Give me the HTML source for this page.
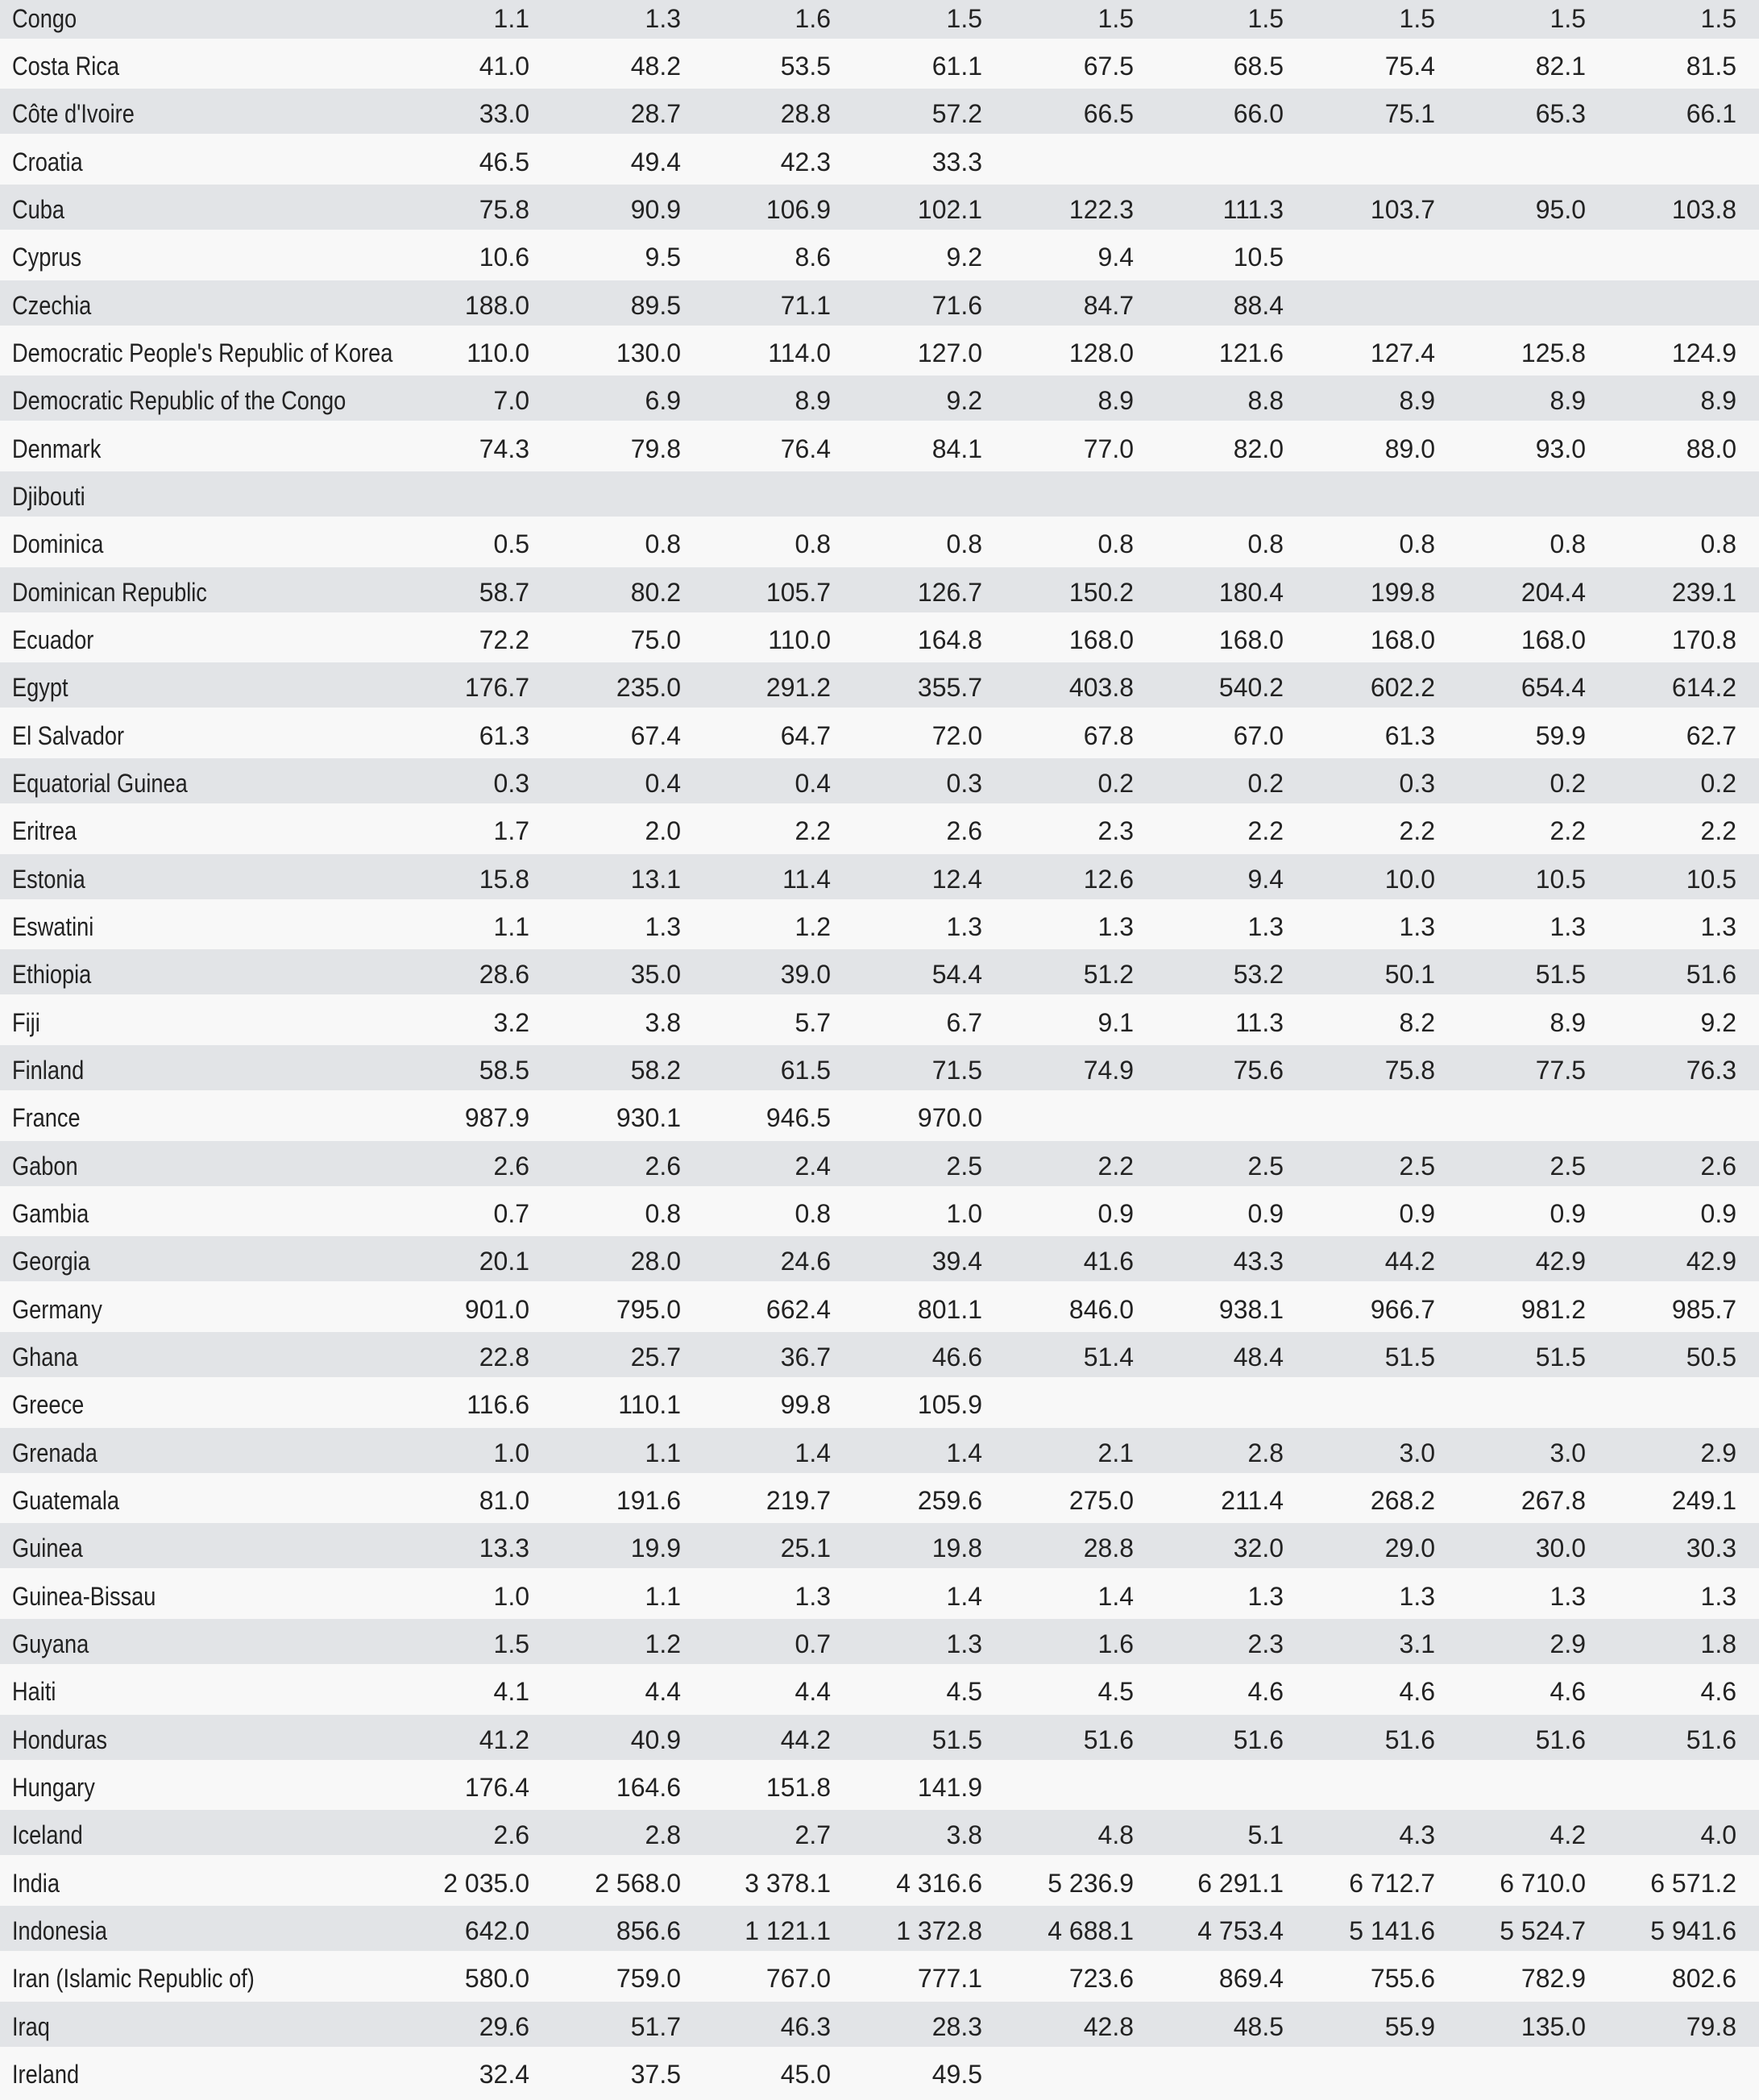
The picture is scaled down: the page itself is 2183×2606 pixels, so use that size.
<!DOCTYPE html>
<html><head><meta charset="utf-8"><style>
html,body{margin:0;padding:0;}
body{width:2183px;height:2606px;overflow:hidden;background:#f8f8f8;position:relative;font-family:"Liberation Sans",sans-serif;font-size:32px;color:#222;}
.r{position:absolute;left:0;width:2183px;height:56px;line-height:63px;}
.g{background:#e2e4e7;}
.w{background:#f8f8f8;}
.r span{position:absolute;top:0;white-space:nowrap;}
.r span.n{left:15px;transform:scaleX(0.85);transform-origin:left center;}
.r span:nth-child(2){right:1526px}
.r span:nth-child(3){right:1338px}
.r span:nth-child(4){right:1152px}
.r span:nth-child(5){right:964px}
.r span:nth-child(6){right:776px}
.r span:nth-child(7){right:590px}
.r span:nth-child(8){right:402px}
.r span:nth-child(9){right:215px}
.r span:nth-child(10){right:28px}
</style></head><body>
<div class="r g" style="top:-8px"><span class="n">Congo</span><span>1.1</span><span>1.3</span><span>1.6</span><span>1.5</span><span>1.5</span><span>1.5</span><span>1.5</span><span>1.5</span><span>1.5</span></div>
<div class="r w" style="top:51px"><span class="n">Costa Rica</span><span>41.0</span><span>48.2</span><span>53.5</span><span>61.1</span><span>67.5</span><span>68.5</span><span>75.4</span><span>82.1</span><span>81.5</span></div>
<div class="r g" style="top:110px"><span class="n">Côte d'Ivoire</span><span>33.0</span><span>28.7</span><span>28.8</span><span>57.2</span><span>66.5</span><span>66.0</span><span>75.1</span><span>65.3</span><span>66.1</span></div>
<div class="r w" style="top:170px"><span class="n">Croatia</span><span>46.5</span><span>49.4</span><span>42.3</span><span>33.3</span></div>
<div class="r g" style="top:229px"><span class="n">Cuba</span><span>75.8</span><span>90.9</span><span>106.9</span><span>102.1</span><span>122.3</span><span>111.3</span><span>103.7</span><span>95.0</span><span>103.8</span></div>
<div class="r w" style="top:288px"><span class="n">Cyprus</span><span>10.6</span><span>9.5</span><span>8.6</span><span>9.2</span><span>9.4</span><span>10.5</span></div>
<div class="r g" style="top:348px"><span class="n">Czechia</span><span>188.0</span><span>89.5</span><span>71.1</span><span>71.6</span><span>84.7</span><span>88.4</span></div>
<div class="r w" style="top:407px"><span class="n">Democratic People's Republic of Korea</span><span>110.0</span><span>130.0</span><span>114.0</span><span>127.0</span><span>128.0</span><span>121.6</span><span>127.4</span><span>125.8</span><span>124.9</span></div>
<div class="r g" style="top:466px"><span class="n">Democratic Republic of the Congo</span><span>7.0</span><span>6.9</span><span>8.9</span><span>9.2</span><span>8.9</span><span>8.8</span><span>8.9</span><span>8.9</span><span>8.9</span></div>
<div class="r w" style="top:526px"><span class="n">Denmark</span><span>74.3</span><span>79.8</span><span>76.4</span><span>84.1</span><span>77.0</span><span>82.0</span><span>89.0</span><span>93.0</span><span>88.0</span></div>
<div class="r g" style="top:585px"><span class="n">Djibouti</span></div>
<div class="r w" style="top:644px"><span class="n">Dominica</span><span>0.5</span><span>0.8</span><span>0.8</span><span>0.8</span><span>0.8</span><span>0.8</span><span>0.8</span><span>0.8</span><span>0.8</span></div>
<div class="r g" style="top:704px"><span class="n">Dominican Republic</span><span>58.7</span><span>80.2</span><span>105.7</span><span>126.7</span><span>150.2</span><span>180.4</span><span>199.8</span><span>204.4</span><span>239.1</span></div>
<div class="r w" style="top:763px"><span class="n">Ecuador</span><span>72.2</span><span>75.0</span><span>110.0</span><span>164.8</span><span>168.0</span><span>168.0</span><span>168.0</span><span>168.0</span><span>170.8</span></div>
<div class="r g" style="top:822px"><span class="n">Egypt</span><span>176.7</span><span>235.0</span><span>291.2</span><span>355.7</span><span>403.8</span><span>540.2</span><span>602.2</span><span>654.4</span><span>614.2</span></div>
<div class="r w" style="top:882px"><span class="n">El Salvador</span><span>61.3</span><span>67.4</span><span>64.7</span><span>72.0</span><span>67.8</span><span>67.0</span><span>61.3</span><span>59.9</span><span>62.7</span></div>
<div class="r g" style="top:941px"><span class="n">Equatorial Guinea</span><span>0.3</span><span>0.4</span><span>0.4</span><span>0.3</span><span>0.2</span><span>0.2</span><span>0.3</span><span>0.2</span><span>0.2</span></div>
<div class="r w" style="top:1000px"><span class="n">Eritrea</span><span>1.7</span><span>2.0</span><span>2.2</span><span>2.6</span><span>2.3</span><span>2.2</span><span>2.2</span><span>2.2</span><span>2.2</span></div>
<div class="r g" style="top:1060px"><span class="n">Estonia</span><span>15.8</span><span>13.1</span><span>11.4</span><span>12.4</span><span>12.6</span><span>9.4</span><span>10.0</span><span>10.5</span><span>10.5</span></div>
<div class="r w" style="top:1119px"><span class="n">Eswatini</span><span>1.1</span><span>1.3</span><span>1.2</span><span>1.3</span><span>1.3</span><span>1.3</span><span>1.3</span><span>1.3</span><span>1.3</span></div>
<div class="r g" style="top:1178px"><span class="n">Ethiopia</span><span>28.6</span><span>35.0</span><span>39.0</span><span>54.4</span><span>51.2</span><span>53.2</span><span>50.1</span><span>51.5</span><span>51.6</span></div>
<div class="r w" style="top:1238px"><span class="n">Fiji</span><span>3.2</span><span>3.8</span><span>5.7</span><span>6.7</span><span>9.1</span><span>11.3</span><span>8.2</span><span>8.9</span><span>9.2</span></div>
<div class="r g" style="top:1297px"><span class="n">Finland</span><span>58.5</span><span>58.2</span><span>61.5</span><span>71.5</span><span>74.9</span><span>75.6</span><span>75.8</span><span>77.5</span><span>76.3</span></div>
<div class="r w" style="top:1356px"><span class="n">France</span><span>987.9</span><span>930.1</span><span>946.5</span><span>970.0</span></div>
<div class="r g" style="top:1416px"><span class="n">Gabon</span><span>2.6</span><span>2.6</span><span>2.4</span><span>2.5</span><span>2.2</span><span>2.5</span><span>2.5</span><span>2.5</span><span>2.6</span></div>
<div class="r w" style="top:1475px"><span class="n">Gambia</span><span>0.7</span><span>0.8</span><span>0.8</span><span>1.0</span><span>0.9</span><span>0.9</span><span>0.9</span><span>0.9</span><span>0.9</span></div>
<div class="r g" style="top:1534px"><span class="n">Georgia</span><span>20.1</span><span>28.0</span><span>24.6</span><span>39.4</span><span>41.6</span><span>43.3</span><span>44.2</span><span>42.9</span><span>42.9</span></div>
<div class="r w" style="top:1594px"><span class="n">Germany</span><span>901.0</span><span>795.0</span><span>662.4</span><span>801.1</span><span>846.0</span><span>938.1</span><span>966.7</span><span>981.2</span><span>985.7</span></div>
<div class="r g" style="top:1653px"><span class="n">Ghana</span><span>22.8</span><span>25.7</span><span>36.7</span><span>46.6</span><span>51.4</span><span>48.4</span><span>51.5</span><span>51.5</span><span>50.5</span></div>
<div class="r w" style="top:1712px"><span class="n">Greece</span><span>116.6</span><span>110.1</span><span>99.8</span><span>105.9</span></div>
<div class="r g" style="top:1772px"><span class="n">Grenada</span><span>1.0</span><span>1.1</span><span>1.4</span><span>1.4</span><span>2.1</span><span>2.8</span><span>3.0</span><span>3.0</span><span>2.9</span></div>
<div class="r w" style="top:1831px"><span class="n">Guatemala</span><span>81.0</span><span>191.6</span><span>219.7</span><span>259.6</span><span>275.0</span><span>211.4</span><span>268.2</span><span>267.8</span><span>249.1</span></div>
<div class="r g" style="top:1890px"><span class="n">Guinea</span><span>13.3</span><span>19.9</span><span>25.1</span><span>19.8</span><span>28.8</span><span>32.0</span><span>29.0</span><span>30.0</span><span>30.3</span></div>
<div class="r w" style="top:1950px"><span class="n">Guinea-Bissau</span><span>1.0</span><span>1.1</span><span>1.3</span><span>1.4</span><span>1.4</span><span>1.3</span><span>1.3</span><span>1.3</span><span>1.3</span></div>
<div class="r g" style="top:2009px"><span class="n">Guyana</span><span>1.5</span><span>1.2</span><span>0.7</span><span>1.3</span><span>1.6</span><span>2.3</span><span>3.1</span><span>2.9</span><span>1.8</span></div>
<div class="r w" style="top:2068px"><span class="n">Haiti</span><span>4.1</span><span>4.4</span><span>4.4</span><span>4.5</span><span>4.5</span><span>4.6</span><span>4.6</span><span>4.6</span><span>4.6</span></div>
<div class="r g" style="top:2128px"><span class="n">Honduras</span><span>41.2</span><span>40.9</span><span>44.2</span><span>51.5</span><span>51.6</span><span>51.6</span><span>51.6</span><span>51.6</span><span>51.6</span></div>
<div class="r w" style="top:2187px"><span class="n">Hungary</span><span>176.4</span><span>164.6</span><span>151.8</span><span>141.9</span></div>
<div class="r g" style="top:2246px"><span class="n">Iceland</span><span>2.6</span><span>2.8</span><span>2.7</span><span>3.8</span><span>4.8</span><span>5.1</span><span>4.3</span><span>4.2</span><span>4.0</span></div>
<div class="r w" style="top:2306px"><span class="n">India</span><span>2 035.0</span><span>2 568.0</span><span>3 378.1</span><span>4 316.6</span><span>5 236.9</span><span>6 291.1</span><span>6 712.7</span><span>6 710.0</span><span>6 571.2</span></div>
<div class="r g" style="top:2365px"><span class="n">Indonesia</span><span>642.0</span><span>856.6</span><span>1 121.1</span><span>1 372.8</span><span>4 688.1</span><span>4 753.4</span><span>5 141.6</span><span>5 524.7</span><span>5 941.6</span></div>
<div class="r w" style="top:2424px"><span class="n">Iran (Islamic Republic of)</span><span>580.0</span><span>759.0</span><span>767.0</span><span>777.1</span><span>723.6</span><span>869.4</span><span>755.6</span><span>782.9</span><span>802.6</span></div>
<div class="r g" style="top:2484px"><span class="n">Iraq</span><span>29.6</span><span>51.7</span><span>46.3</span><span>28.3</span><span>42.8</span><span>48.5</span><span>55.9</span><span>135.0</span><span>79.8</span></div>
<div class="r w" style="top:2543px"><span class="n">Ireland</span><span>32.4</span><span>37.5</span><span>45.0</span><span>49.5</span></div>
</body></html>
